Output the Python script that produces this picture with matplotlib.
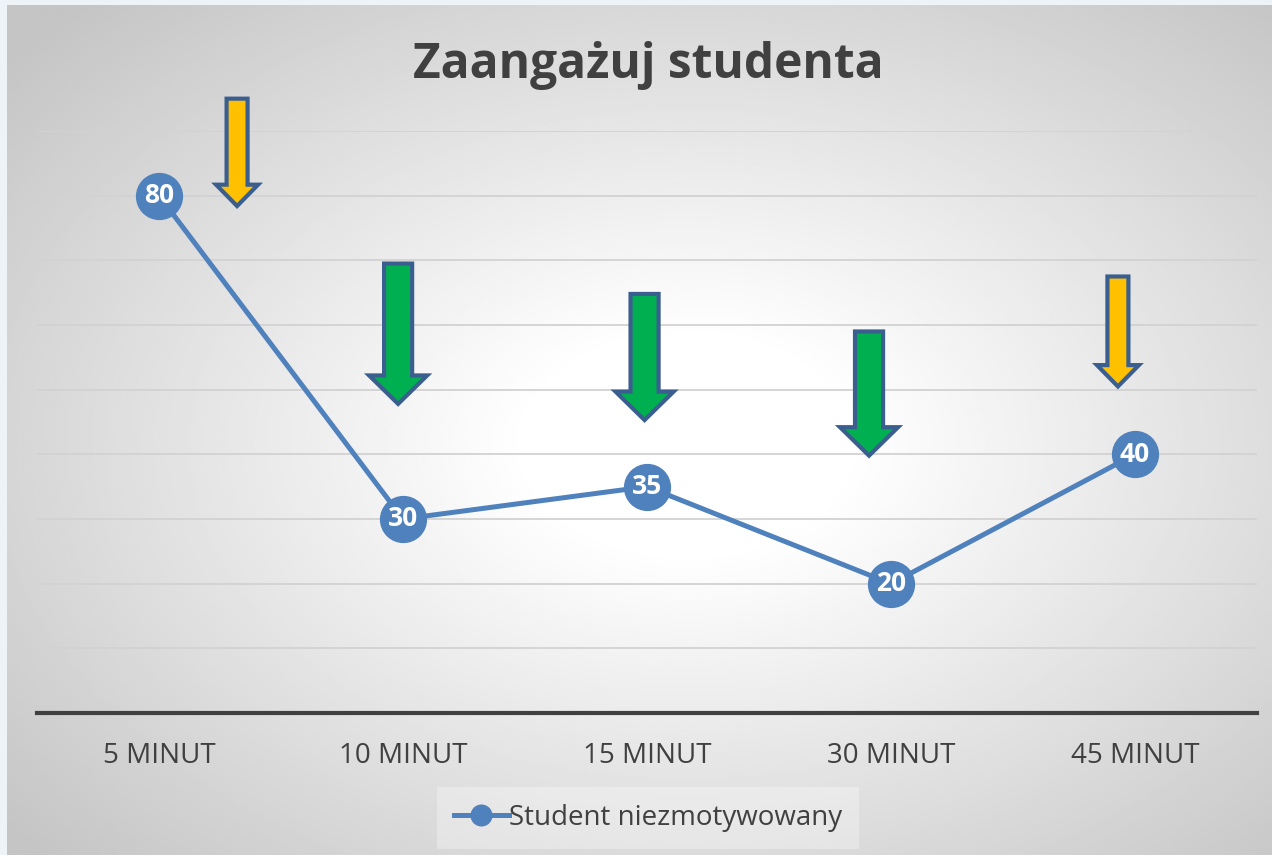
#!/usr/bin/env python3
"""Zaangazuj studenta - line chart with annotation arrows."""
import numpy as np
import matplotlib
matplotlib.use("Agg")
import matplotlib.pyplot as plt  # noqa: E402
from matplotlib.patches import FancyArrow  # noqa: E402

categories = ["5 MINUT", "10 MINUT", "15 MINUT", "30 MINUT", "45 MINUT"]
values = [80, 30, 35, 20, 40]
series_name = "Student niezmotywowany"
title = "Zaangażuj studenta"

# arrows: (x position in category units, top value, tip value, kind)
arrow_x = [0.32, 0.98, 1.99, 2.91, 3.93]
arrow_top = [95.0, 69.5, 64.8, 59.0, 67.5]
arrow_tip = [78.4, 47.8, 45.3, 39.8, 50.5]
arrow_kind = ["yellow", "green", "green", "green", "yellow"]

W, H = 1272, 855
plt.rcParams["font.family"] = ["Open Sans", "DejaVu Sans"]

fig = plt.figure(figsize=(W / 100, H / 100), dpi=100)
fig.patch.set_facecolor("#EEF3F8")

# radial grey-to-white background
bg = fig.add_axes([7 / W, 0, 1 - 7 / W, 1 - 5 / H])
gx, gy = np.meshgrid(np.linspace(0, W - 7, 400), np.linspace(0, H - 5, 300))
r = np.sqrt(((gx - 680) / 640) ** 2 + ((gy - 440) / 430) ** 2)
shade = np.clip(1.0 - 0.2 * np.clip(r - 0.25, 0, None), 0.77, 1.0)
bg.imshow(shade, cmap="gray", vmin=0, vmax=1, aspect="auto",
          extent=[0, 1, 0, 1], origin="upper", interpolation="bilinear")
bg.axis("off")

ax = fig.add_axes([37 / W, 1 - 713 / H, 1220 / W, (713 - 131) / H])
ax.set_facecolor("none")
x = np.arange(len(categories))
ax.set_xlim(-0.5, len(categories) - 0.5)
ax.set_ylim(0, 90)

for v in range(10, 91, 10):
    ax.axhline(v, color="#D2D2D2", lw=1.3, zorder=1)
ax.axhline(0, color="#404040", lw=3, zorder=2, clip_on=False)

line_color = "#4F81BD"
ax.plot(x, values, color=line_color, lw=3.6, marker="o", markersize=33,
        markerfacecolor=line_color, markeredgecolor=line_color, zorder=4,
        label=series_name)
for xi, v in zip(x, values):
    ax.text(xi, v, str(v), color="white", fontsize=19, fontweight="bold",
            ha="center", va="center", zorder=5)

fills = {"yellow": "#FFC000", "green": "#00B050"}
sizes = {"yellow": (0.086, 0.172, 3.3), "green": (0.115, 0.238, 4.4)}
for ax_x, top, tip, kind in zip(arrow_x, arrow_top, arrow_tip, arrow_kind):
    w, hw, hl = sizes[kind]
    arr = FancyArrow(ax_x, top, 0, tip - top, width=w, head_width=hw,
                     head_length=hl, length_includes_head=True,
                     facecolor=fills[kind], edgecolor="#3A5F8F", lw=3,
                     zorder=6, clip_on=False, joinstyle="miter")
    ax.add_patch(arr)

ax.set_xticks(x)
ax.set_xticklabels(categories, fontsize=20, color="#404040")
ax.tick_params(axis="x", length=0, pad=21)
ax.set_yticks([])
for s in ax.spines.values():
    s.set_visible(False)

fig.text(648 / W, 1 - 65 / H, title, fontsize=34.5, fontweight="bold",
         color="#404040", ha="center", va="center")

leg = ax.legend(loc="center", bbox_to_anchor=(648 / W, 1 - 818 / H),
                bbox_transform=fig.transFigure, frameon=True, fontsize=20,
                handlelength=2.0, handletextpad=0.0, borderpad=0.6,
                borderaxespad=0, markerscale=0.45, fancybox=False)
leg.get_frame().set_facecolor("white")
leg.get_frame().set_alpha(0.3)
leg.get_frame().set_edgecolor("none")
for t in leg.get_texts():
    t.set_color("#404040")

fig.savefig("out.png", dpi=100)
